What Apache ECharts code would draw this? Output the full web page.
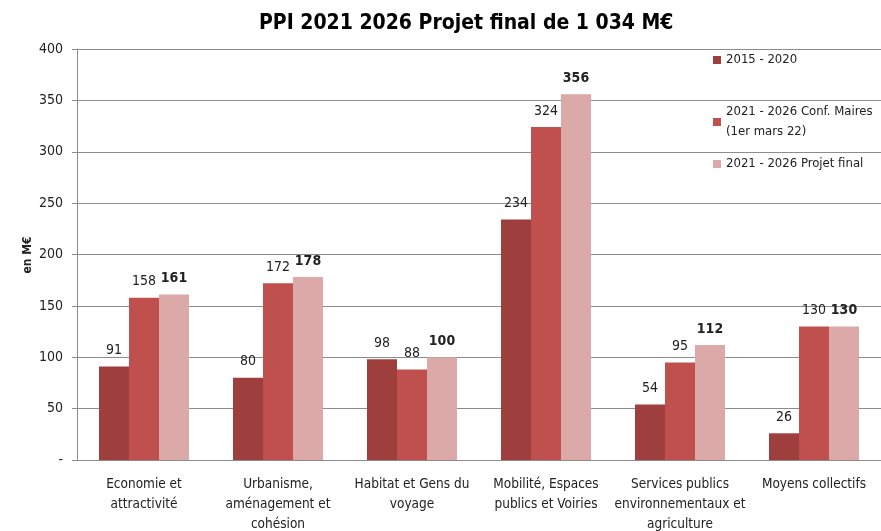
<!DOCTYPE html>
<html>
<head>
<meta charset="utf-8">
<script src="https://cdn.jsdelivr.net/npm/echarts@6/dist/echarts.min.js"></script>
<style>
html, body { margin: 0; padding: 0; background: #fff; }
#chart { width: 881px; height: 531px; }
</style>
</head>
<body>
<div id="chart"></div>
<script>
var categories = [ // catégories
	'Economie et\nattractivité',
	'Urbanisme,\naménagement et\ncohésion',
	'Habitat et Gens du\nvoyage',
	'Mobilité, Espaces\npublics et Voiries',
	'Services publics\nenvironnementaux et\nagriculture',
	'Moyens collectifs'
];
var seriesNames = ['2015 - 2020', '2021 - 2026 Conf. Maires (1er mars 22)', '2021 - 2026 Projet final'];
var legendLabels = ['2015 - 2020', '2021 - 2026 Conf. Maires\n(1er mars 22)', '2021 - 2026 Projet final'];
var val2015 = [91, 80, 98, 234, 54, 26];
var valConf = [158, 172, 88, 324, 95, 130];
var valFinal = [161, 178, 100, 356, 112, 130];
var yTicks = [0, 50, 100, 150, 200, 250, 300, 350, 400];

var font = "'Liberation Sans Narrow', 'DejaVu Sans Condensed', 'Open Sans', sans-serif";
var colors = ['#9E3F3E', '#C0504D', '#DAA9A8'];

var chart = echarts.init(document.getElementById('chart'));

function makeLegend(i, top) {
	return {
		orient: 'vertical',
		left: 708,
		top: top,
		itemWidth: 8,
		itemHeight: 8,
		icon: 'rect',
		data: [seriesNames[i]],
		formatter: function () { return legendLabels[i]; },
		textStyle: { fontFamily: font, fontSize: 13, color: '#222', lineHeight: 20, verticalAlign: 'top' }
	};
}

function makeSeries(i, data, bold) {
	return {
		name: seriesNames[i],
		type: 'bar',
		data: data,
		barWidth: 30,
		barGap: '0%',
		itemStyle: { color: colors[i] },
		label: {
			show: true,
			position: 'top',
			distance: 9,
			fontFamily: font,
			fontSize: 14,
			fontWeight: bold ? 'bold' : 'normal',
			color: '#222'
		}
	};
}

var option = {
	animation: false,
	title: {
		text: 'PPI 2021 2026 Projet final de 1 034 M€',
		left: 254,
		top: 8,
		textStyle: { fontFamily: font, fontSize: 21, fontWeight: 'bold', color: '#000' }
	},
	graphic: [{ // titre de l'axe vertical
		type: 'text',
		x: 28,
		y: 255,
		rotation: Math.PI / 2,
		style: {
			text: 'en M€',
			fontFamily: font,
			fontSize: 12,
			fontWeight: 'bold',
			fill: '#222',
			align: 'center',
			verticalAlign: 'middle'
		}
	}],
	legend: [makeLegend(0, 45), makeLegend(1, 97), makeLegend(2, 149)],
	grid: { left: 77, right: 0, top: 49, bottom: 71, containLabel: false, outerBoundsMode: 'none' },
	xAxis: {
		type: 'category',
		data: categories,
		axisLine: { lineStyle: { color: '#8c8c8c' } },
		axisTick: { show: false },
		axisLabel: {
			interval: 0,
			margin: 14,
			fontFamily: font,
			fontSize: 13.5,
			lineHeight: 20,
			color: '#222'
		}
	},
	yAxis: {
		type: 'value',
		min: yTicks[0],
		max: yTicks[yTicks.length - 1],
		interval: 50,
		axisLine: { show: true, lineStyle: { color: '#8c8c8c' } },
		axisTick: { show: true, length: 5, lineStyle: { color: '#8c8c8c' } },
		axisLabel: {
			margin: 14,
			fontFamily: font,
			fontSize: 14,
			color: '#222',
			formatter: function (v) { return v === 0 ? '-' : v; }
		},
		splitLine: { lineStyle: { color: '#8c8c8c' } }
	},
	series: [
		makeSeries(0, val2015, false),
		makeSeries(1, valConf, false),
		makeSeries(2, valFinal, true)
	]
};
chart.setOption(option);
</script>
</body>
</html>
